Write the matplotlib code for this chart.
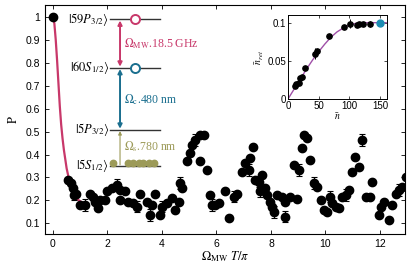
import numpy as np
import matplotlib
matplotlib.use('Agg')
import matplotlib.pyplot as plt

plt.rcParams['font.family'] = ['Liberation Sans', 'DejaVu Sans']
plt.rcParams['mathtext.fontset'] = 'stix'

# --- main data: P vs Omega_MW T / pi ---
x_main = [0, 0.56, 0.65, 0.72, 0.76, 0.85, 0.99, 1.18, 1.36, 1.46, 1.54, 1.67, 1.73, 1.91,
          1.97, 2.16, 2.34, 2.46, 2.46, 2.65, 2.77, 2.95, 3.08, 3.2, 3.44, 3.57, 3.63, 3.75,
          3.93, 4.0, 4.18, 4.36, 4.49, 4.61, 4.67, 4.73, 4.91, 5.04, 5.1, 5.22, 5.4, 5.53,
          5.4, 5.65, 5.77, 5.83, 5.96, 6.08, 6.32, 6.45, 6.63, 6.75, 6.94, 7.06, 7.18, 7.24,
          7.34, 7.43, 7.55, 7.61, 7.67, 7.79, 7.86, 7.98, 8.04, 8.1, 8.22, 8.41, 8.53, 8.53,
          8.71, 8.83, 8.96, 9.02, 9.14, 9.2, 9.33, 9.45, 9.57, 9.69, 9.82, 9.94, 10.06, 10.18,
          10.24, 10.37, 10.49, 10.61, 10.74, 10.86, 10.98, 11.1, 11.22, 11.35, 11.47, 11.65,
          11.72, 11.96, 12.02, 12.14, 12.33, 12.45, 12.57, 12.7, 12.82, 12.94]
p_main = [1.0, 0.29, 0.275, 0.255, 0.225, 0.23, 0.18, 0.18, 0.23, 0.217, 0.195, 0.166, 0.2, 0.2,
          0.24, 0.253, 0.267, 0.246, 0.2, 0.24, 0.195, 0.188, 0.173, 0.23, 0.195, 0.137, 0.18, 0.23,
          0.137, 0.173, 0.188, 0.21, 0.159, 0.195, 0.275, 0.253, 0.37, 0.405, 0.44, 0.463, 0.485, 0.485,
          0.37, 0.333, 0.224, 0.18, 0.18, 0.188, 0.24, 0.123, 0.217, 0.23, 0.325, 0.362, 0.333, 0.383,
          0.434, 0.289, 0.282, 0.24, 0.31, 0.253, 0.224, 0.195, 0.173, 0.15, 0.224, 0.217, 0.195, 0.13,
          0.217, 0.354, 0.205, 0.333, 0.427, 0.485, 0.47, 0.376, 0.275, 0.26, 0.2, 0.159, 0.15, 0.217,
          0.188, 0.173, 0.166, 0.217, 0.224, 0.246, 0.325, 0.39, 0.347, 0.463, 0.217, 0.217,
          0.282, 0.137, 0.173, 0.195, 0.115, 0.18, 0.23, 0.246, 0.26, 0.303]
err_main = np.zeros(len(x_main))
for xe in [0.76, 1.18, 2.34, 3.08, 3.57, 4.0, 4.67, 5.22, 5.83, 6.63, 7.18, 7.55, 7.61,
           8.1, 9.02, 9.57, 10.18, 10.74, 11.35, 12.7]:
    err_main[x_main.index(xe)] = 0.025
err_main[x_main.index(8.53) + 1] = 0.025

# theory curve
x_fit = [0, 0.05, 0.1, 0.15, 0.2, 0.25, 0.3, 0.35, 0.4, 0.45, 0.5, 0.6, 0.7, 0.8, 0.9, 1.0, 1.1]
p_fit = [1.0, 0.97, 0.9, 0.81, 0.71, 0.61, 0.53, 0.47, 0.42, 0.38, 0.34, 0.285, 0.245, 0.22,
         0.205, 0.196, 0.19]

# --- inset data ---
n_bar = [11, 13.6, 18, 20, 22, 27.3, 43.6, 48, 66.5, 91.6, 101, 112, 116, 123, 134]
n_ret = [0.0164, 0.0196, 0.021, 0.0276, 0.029, 0.041, 0.0596, 0.063, 0.082, 0.094, 0.0987,
         0.0964, 0.098, 0.0987, 0.0987]
n_err = [0, 0, 0, 0, 0, 0, 0.007, 0, 0, 0, 0.006, 0, 0, 0, 0.004]
n_curve = [0, 10, 20, 30, 40, 50, 60, 70, 80, 90, 100, 110, 120, 130, 140, 150, 160]
ret_curve = [0, 0.013, 0.026, 0.039, 0.051, 0.062, 0.072, 0.081, 0.088, 0.093, 0.097, 0.099,
             0.1, 0.1, 0.1, 0.1, 0.1]
n_hi, ret_hi = 150, 0.1

RED = '#c8386a'
TEAL = '#1b6f8f'
OLIVE = '#9c9a58'
CYAN = '#1c8db3'

fig = plt.figure(figsize=(4.15, 2.69), dpi=100)
ax = fig.add_axes([0.108, 0.13, 0.868, 0.851])

ax.plot(x_fit, p_fit, color=RED, lw=1.6, zorder=2)
ax.plot(x_main, p_main, 'o', color='black', ms=6, zorder=3)
x_arr = np.array(x_main)
p_arr = np.array(p_main)
m = err_main > 0
ax.errorbar(x_arr[m], p_arr[m], yerr=err_main[m], fmt='none', ecolor='black',
            elinewidth=0.8, capsize=2.5, capthick=0.8, zorder=3)

ax.set_xlim(-0.3, 12.92)
ax.set_ylim(0.054, 1.05)
ax.set_xticks([0, 2, 4, 6, 8, 10, 12])
ax.set_yticks([0.1, 0.2, 0.3, 0.4, 0.5, 0.6, 0.7, 0.8, 0.9, 1.0])
ax.set_yticklabels(['0.1', '0.2', '0.3', '0.4', '0.5', '0.6', '0.7', '0.8', '0.9', '1'])
ax.tick_params(direction='in', top=True, right=True, labelsize=7.5, length=3, width=0.6)
for s in ax.spines.values():
    s.set_linewidth(0.8)
ax.set_xlabel(r'$\Omega_{\rm MW}\ T/\pi$', fontsize=9, labelpad=0)
ax.set_ylabel(r'$\rm P$', fontsize=9, labelpad=4)

# --- level diagram ---
lx0, lx1 = 2.08, 3.93
levels = {'59P': 0.988, '60S': 0.777, '5P': 0.507, '5S': 0.35}
for y in levels.values():
    ax.plot([lx0, lx1], [y, y], color='#333333', lw=1.0, zorder=4)
lab_kw = dict(ha='right', va='center', fontsize=9)
ax.text(2.05, levels['59P'], r'$|59P_{3/2}\rangle$', **lab_kw)
ax.text(2.05, levels['60S'], r'$|60S_{1/2}\rangle$', **lab_kw)
ax.text(2.05, levels['5P'], r'$|5P_{3/2}\rangle$', **lab_kw)
ax.text(2.05, levels['5S'], r'$|5S_{1/2}\rangle$', **lab_kw)

ax.plot(3.01, levels['59P'], 'o', ms=6.5, mfc='white', mec=RED, mew=1.4, zorder=5)
ax.plot(3.01, levels['60S'], 'o', ms=6.5, mfc='white', mec=TEAL, mew=1.4, zorder=5)
dots_x = [2.22, 2.77, 2.95, 3.14, 3.32, 3.51, 3.69]
ax.plot(dots_x, [levels['5S'] + 0.014] * len(dots_x), 'o', ms=4.6, color=OLIVE, zorder=5)

ax_x = 2.46
ax.annotate('', xy=(ax_x, levels['59P'] - 0.005), xytext=(ax_x, levels['60S'] + 0.005),
            arrowprops=dict(arrowstyle='<|-|>', color=RED, lw=1.4,
                            mutation_scale=6, shrinkA=0, shrinkB=0), zorder=4)
ax.annotate('', xy=(ax_x, levels['60S'] - 0.005), xytext=(ax_x, levels['5P'] + 0.005),
            arrowprops=dict(arrowstyle='<|-|>', color=TEAL, lw=1.4,
                            mutation_scale=6, shrinkA=0, shrinkB=0), zorder=4)
ax.annotate('', xy=(ax_x, levels['5P'] - 0.005), xytext=(ax_x, levels['5S'] + 0.005),
            arrowprops=dict(arrowstyle='-|>', color=OLIVE, lw=0.8,
                            mutation_scale=5, shrinkA=0, shrinkB=0), zorder=4)

txt_kw = dict(ha='left', va='center', fontsize=8.5, family=['Liberation Serif', 'DejaVu Serif'])
ax.text(2.6, 0.883, r'$\Omega_{\rm MW}$.18.5 GHz', color=RED, **txt_kw)
ax.text(2.6, 0.637, r'$\Omega_{\rm c}$.480 nm', color=TEAL, **txt_kw)
ax.text(2.6, 0.434, r'$\Omega_{\rm s}$.780 nm', color=OLIVE, **txt_kw)

# --- inset ---
ins = fig.add_axes([0.694, 0.632, 0.238, 0.312])
ins.plot(n_curve, ret_curve, color='#a050a8', lw=1.0, zorder=2)
ins.errorbar(n_bar, n_ret, yerr=n_err, fmt='o', color='black', ms=3.8,
             elinewidth=0.7, capsize=0, zorder=3)
ins.plot(n_hi, ret_hi, 'o', color=CYAN, ms=5, zorder=4)
ins.set_xlim(0, 161)
ins.set_ylim(0, 0.11)
ins.set_xticks([0, 50, 100, 150])
ins.set_yticks([0, 0.05, 0.1])
ins.set_yticklabels(['0', '0.05', '0.1'])
ins.tick_params(direction='in', top=True, right=True, labelsize=7, length=2, width=0.5, pad=1.5)
for s in ins.spines.values():
    s.set_linewidth(0.7)
ins.set_xlabel(r'$\bar{n}$', fontsize=7, labelpad=0)
ins.set_ylabel(r'$\bar{n}_{\,ret}$', fontsize=7, labelpad=1)

fig.savefig('out.png', dpi=100)
